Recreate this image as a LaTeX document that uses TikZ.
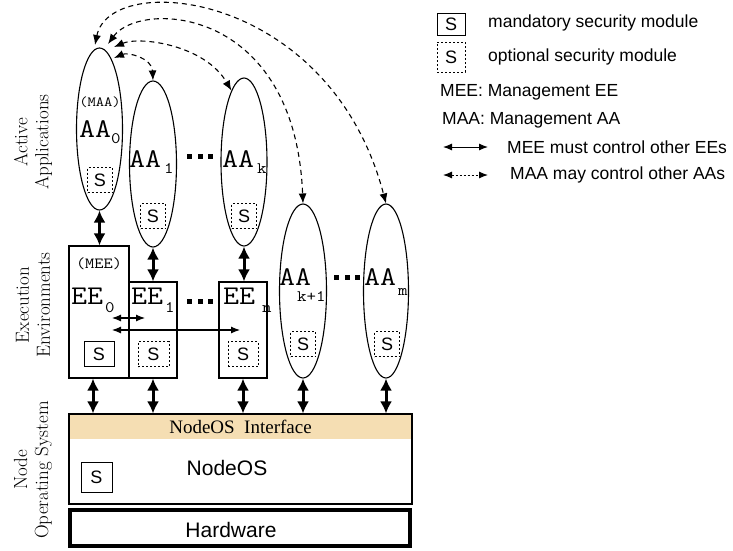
\documentclass[tikz,border=0pt]{standalone}
\usepackage{fontspec}
\usepackage{graphicx}
\usetikzlibrary{arrows.meta,shapes.geometric}
\newfontfamily\arialfont{Liberation Sans}
\newfontfamily\timesfont{Liberation Serif}
\definecolor{ifacecol}{RGB}{245,222,179}
% wide typewriter lettering for AA / EE labels
\newcommand{\monotext}[2]{\scalebox{1.15}[1]{\fontsize{#1}{#1}\selectfont\ttfamily #2}}
\newcommand{\dotrow}{\rule{5pt}{5pt}\hspace{5.5pt}\rule{5pt}{5pt}\hspace{5.5pt}\rule{5pt}{5pt}}

\begin{document}
\begin{tikzpicture}[x=1pt,y=-1pt,
  aanode/.style={draw, ellipse, line width=1.1pt, inner sep=0pt},
  eebox/.style={draw, rectangle, line width=1.1pt, inner sep=0pt},
  smod/.style={draw, line width=1pt, inner sep=0pt, minimum width=26pt, minimum height=24pt,
    font=\arialfont\fontsize{18}{18}\selectfont},
  smodopt/.style={smod, dash pattern=on 2pt off 2pt},
  lbl/.style={inner sep=0pt, anchor=base west},
  bigarrow/.style={line width=3pt, {Latex[length=12pt,width=12pt]}-{Latex[length=12pt,width=12pt]}},
  ctrl/.style={line width=1.1pt, {Latex[length=9pt,width=7pt]}-{Latex[length=9pt,width=7pt]}},
  mayctrl/.style={line width=1.1pt, dash pattern=on 5pt off 4pt,
    {Latex[length=10pt,width=8pt]}-{Latex[length=10pt,width=8pt]}},
  legctrl/.style={line width=1pt, dash pattern=on 2pt off 2pt,
    {Latex[length=9pt,width=7pt]}-{Latex[length=9pt,width=7pt]}},
  legtxt/.style={anchor=west, inner sep=0pt, font=\arialfont\fontsize{17.5}{17.5}\selectfont},
  side/.style={rotate=90, align=center, inner sep=0pt, font=\fontsize{19}{21}\selectfont}]
\useasboundingbox (0,0) rectangle (733,550);

% layer labels
\node[side] (lblaa) at (33,142) {Active\\Applications};
\node[side] (lblee) at (33,305) {Execution\\Environments};
\node[side] (lblos) at (33,470) {Node\\Operating System};

% active applications
\node[aanode, minimum width=46pt, minimum height=162pt] (aa0) at (99.5,129) {};
\node[aanode, minimum width=47pt, minimum height=166pt] (aa1) at (153,164) {};
\node[aanode, minimum width=46pt, minimum height=168pt] (aak) at (244,162) {};
\node[aanode, minimum width=47pt, minimum height=174pt] (aak1) at (303,291) {};
\node[aanode, minimum width=45pt, minimum height=174pt] (aam) at (386,291) {};

\node (maa) at (100,102) {\monotext{14}{(MAA)}};
\node[lbl] (aa0t) at (79,137) {\monotext{27}{AA}};
\node[lbl] (aa0s) at (111,143) {\monotext{16}{0}};
\node[lbl] (aa1t) at (129,167) {\monotext{27}{AA}};
\node[lbl] (aa1s) at (164,173) {\monotext{16}{1}};
\node[lbl] (aakt) at (222,167) {\monotext{27}{AA}};
\node[lbl] (aaks) at (257,173) {\monotext{16}{k}};
\node[lbl] (aak1t) at (279,285) {\monotext{27}{AA}};
\node[lbl] (aak1s) at (297,301) {\monotext{16}{k+1}};
\node[lbl] (aamt) at (364,285) {\monotext{27}{AA}};
\node[lbl] (aams) at (398,295) {\monotext{16}{m}};

\node[inner sep=0pt] (dotsaa) at (200,156) {\dotrow};
\node[inner sep=0pt] (dotsaar) at (347,277) {\dotrow};

\node[smodopt, minimum width=25pt, minimum height=25pt] (saa0) at (100,180) {S};
\node[smodopt, minimum width=25pt, minimum height=25pt] (saa1) at (153,216) {S};
\node[smodopt, minimum width=25pt, minimum height=25pt] (saak) at (244,216) {S};
\node[smodopt, minimum width=25pt, minimum height=25pt] (saak1) at (303,344) {S};
\node[smodopt, minimum width=25pt, minimum height=25pt] (saam) at (387,344) {S};

% execution environments
\node[eebox, minimum width=60pt, minimum height=132pt] (ee0) at (99,312) {};
\node[eebox, minimum width=48pt, minimum height=96pt] (ee1) at (153,330) {};
\node[eebox, minimum width=48pt, minimum height=96pt] (een) at (243,330) {};

\node (mee) at (99,264) {\monotext{15.5}{(MEE)}};
\node[lbl] (ee0t) at (71,304) {\monotext{27}{EE}};
\node[lbl] (ee0s) at (105,312) {\monotext{16}{0}};
\node[lbl] (ee1t) at (131,304) {\monotext{27}{EE}};
\node[lbl] (ee1s) at (165,312) {\monotext{16}{1}};
\node[lbl] (eent) at (223,304) {\monotext{27}{EE}};
\node[lbl] (eens) at (262,312) {\monotext{16}{n}};

\node[inner sep=0pt] (dotsee) at (200,301) {\dotrow};

\node[smod, minimum width=30pt, minimum height=25pt] (see0) at (99,354) {S};
\node[smodopt, minimum width=31pt, minimum height=25pt] (see1) at (153.5,354) {S};
\node[smodopt, minimum width=30pt, minimum height=25pt] (seen) at (243,354) {S};

% node operating system
\node[fill=ifacecol, minimum width=343pt, minimum height=25pt, inner sep=0pt,
  font=\timesfont\fontsize{19}{19}\selectfont] (iface) at (240.5,426.5) {NodeOS\hspace{0.5em}Interface};
\node[draw, line width=1.1pt, minimum width=343pt, minimum height=90pt, inner sep=0pt] (nos) at (240.5,459) {};
\node[font=\arialfont\fontsize{21}{21}\selectfont, inner sep=0pt] (nost) at (227,468) {NodeOS};
\node[smod, minimum width=31pt, minimum height=30pt] (snos) at (96.5,477) {S};

% hardware
\node[draw, line width=4pt, minimum width=340pt, minimum height=36pt, inner sep=0pt] (hw) at (240,528) {};
\node[font=\arialfont\fontsize{21}{21}\selectfont, inner sep=0pt] (hwt) at (231,530) {Hardware};

% vertical interfaces
\draw[bigarrow] (aa0.south) -- (aa0.south |- ee0.north);
\draw[bigarrow] (aa1.south) -- (aa1.south |- ee1.north);
\draw[bigarrow] (aak.south) -- (aak.south |- een.north);
\draw[bigarrow] ([xshift=-6pt]ee0.south) -- ([xshift=-6pt]ee0.south |- nos.north);
\draw[bigarrow] (ee1.south) -- (ee1.south |- nos.north);
\draw[bigarrow] (een.south) -- (een.south |- nos.north);
\draw[bigarrow] (aak1.south) -- (aak1.south |- nos.north);
\draw[bigarrow] (aam.south) -- (aam.south |- nos.north);

% MEE controls the other EEs
\coordinate (meea) at (112,318);
\coordinate (meeb) at (145,318);
\coordinate (meec) at (112,330);
\coordinate (meed) at (240,330);
\draw[ctrl] (meea) -- (meeb);
\draw[ctrl] (meec) -- (meed);

% MAA may control the other AAs
\coordinate (maa1) at (114,58);
\coordinate (maa2) at (114,47);
\coordinate (maa3) at (108,44);
\coordinate (maa4) at (95,45);
\draw[mayctrl] (maa1) .. controls (128,52) and (152,58) .. (aa1.north);
\draw[mayctrl] (maa2) .. controls (140,36) and (205,45) .. (aak.100);
\draw[mayctrl] (maa3) .. controls (140,0) and (295,5) .. (aak1.north);
\draw[mayctrl] (maa4) .. controls (110,-30) and (330,-10) .. (aam.north);

% legend
\node[smod, minimum width=28pt, minimum height=22pt] (legs1) at (451,24) {S};
\node[legtxt] (legt1) at (488,23) {mandatory security module};
\node[smodopt, minimum width=28pt, minimum height=30pt] (legs2) at (451,57) {S};
\node[legtxt] (legt2) at (488,57) {optional security module};
\node[legtxt] (legt3) at (440,92) {MEE: Management EE};
\node[legtxt] (legt4) at (442,120) {MAA: Management AA};
\coordinate (lega) at (443,147);
\coordinate (legb) at (488,147);
\draw[ctrl, line width=1pt] (lega) -- (legb);
\node[legtxt] (legt5) at (507,147) {MEE must control other EEs};
\coordinate (legc) at (443,175);
\coordinate (legd) at (488,175);
\draw[legctrl] (legc) -- (legd);
\node[legtxt] (legt6) at (510,175) {MAA may control other AAs};
\end{tikzpicture}
\end{document}
